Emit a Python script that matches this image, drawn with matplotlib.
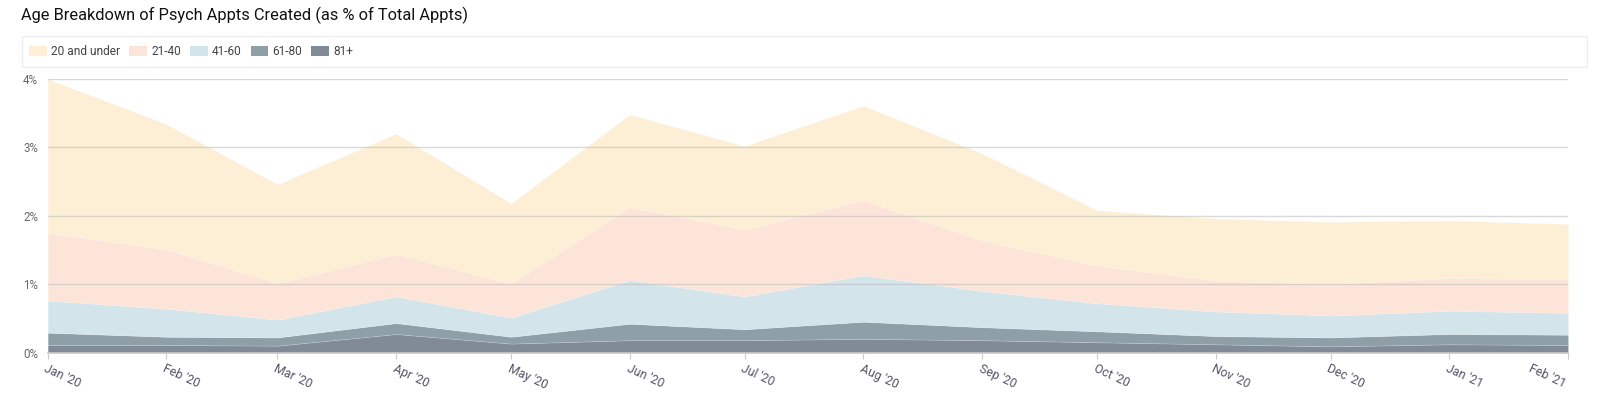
import numpy as np
import pandas as pd
import matplotlib
matplotlib.use('Agg')
import matplotlib.pyplot as plt
import matplotlib.dates as mdates
from matplotlib.patches import Patch, FancyBboxPatch

plt.rcParams['font.family'] = ['Roboto', 'DejaVu Sans']

# monthly data (% of total appts)
months = pd.date_range('2020-01-01', periods=14, freq='MS')
age_labels = ['20 and under', '21-40', '41-60', '61-80', '81+']
under_20 = [2.25, 1.83, 1.45, 1.76, 1.17, 1.35, 1.22, 1.38, 1.27, 0.81, 0.91, 0.91, 0.84, 0.81]
age_21_40 = [0.99, 0.87, 0.53, 0.62, 0.50, 1.07, 0.98, 1.10, 0.74, 0.55, 0.45, 0.46, 0.48, 0.49]
age_41_60 = [0.47, 0.41, 0.26, 0.39, 0.28, 0.64, 0.48, 0.68, 0.53, 0.41, 0.36, 0.32, 0.34, 0.32]
age_61_80 = [0.18, 0.12, 0.12, 0.16, 0.10, 0.24, 0.16, 0.25, 0.19, 0.16, 0.12, 0.13, 0.15, 0.15]
age_81_up = [0.11, 0.11, 0.10, 0.27, 0.13, 0.18, 0.18, 0.20, 0.18, 0.15, 0.12, 0.09, 0.12, 0.11]
y_ticks = [0, 1, 2, 3, 4]

colors = ['#fdefd5', '#fde4d8', '#d3e5eb', '#8f9fa8', '#818b97']

W, H = 1600, 397
fig = plt.figure(figsize=(W / 100, H / 100), dpi=100)
ax = fig.add_axes([47.7 / W, 1 - 352.5 / H, (1568 - 47.7) / W, (352.5 - 79) / H])

# stack from the bottom (81+) upwards
series = [age_81_up, age_61_80, age_41_60, age_21_40, under_20]
stack_colors = colors[::-1]
base = np.zeros(len(months))
for vals, c in zip(series, stack_colors):
    top = base + np.array(vals)
    ax.fill_between(months, base, top, color=c, lw=0.5, edgecolor='#ffffff30', zorder=2)
    base = top

ax.set_xlim(months[0], months[-1])
ax.set_ylim(0, 4)
ax.set_yticks(y_ticks)
ax.set_yticklabels([f'{t}%' for t in y_ticks])
for t in y_ticks[1:]:
    ax.axhline(t, color='#bbbbbb', lw=1, alpha=0.55, zorder=3)

ax.set_xticks(months)
ax.xaxis.set_major_formatter(mdates.DateFormatter("%b '%y"))
for s in ['top', 'right', 'left']:
    ax.spines[s].set_visible(False)
ax.spines['bottom'].set_color('#c8c8c8')
ax.spines['bottom'].set_linewidth(1.2)
ax.tick_params(axis='y', length=0, labelsize=8.3, labelcolor='#666666', pad=7)
ax.tick_params(axis='x', length=4, color='#cccccc', labelsize=8.8, labelcolor='#555566', pad=3)
xlabels = ax.get_xticklabels()
for lbl in xlabels[:-1]:
    lbl.set_rotation(-25)
    lbl.set_ha('left')
    lbl.set_va('top')
    lbl.set_rotation_mode('anchor')
# last label is pushed left to stay inside the chart
xlabels[-1].set_rotation(-25)
xlabels[-1].set_ha('right')
xlabels[-1].set_va('top')

fig.text(21 / W, 1 - 15 / H, "Age Breakdown of Psych Appts Created (as % of Total Appts)",
         fontsize=11.8, color='#111111', va='center', ha='left')

# legend box
box = FancyBboxPatch((21.7 / W, 1 - 66.7 / H), (1587 - 21.7) / W, 30.7 / H,
                     boxstyle='square,pad=0', transform=fig.transFigure,
                     facecolor='white', edgecolor='#eeeeee', lw=1)
fig.patches.append(box)
handles = [Patch(facecolor=c, edgecolor='none', label=l) for c, l in zip(colors, age_labels)]
fig.legend(handles=handles, loc='center left', bbox_to_anchor=(18 / W, 1 - 51.5 / H),
           ncol=5, frameon=False, fontsize=8.6, handlelength=1.5, handleheight=1.0,
           handletextpad=0.35, columnspacing=0.75, labelcolor='#444444')

fig.savefig('out.png', dpi=100)
